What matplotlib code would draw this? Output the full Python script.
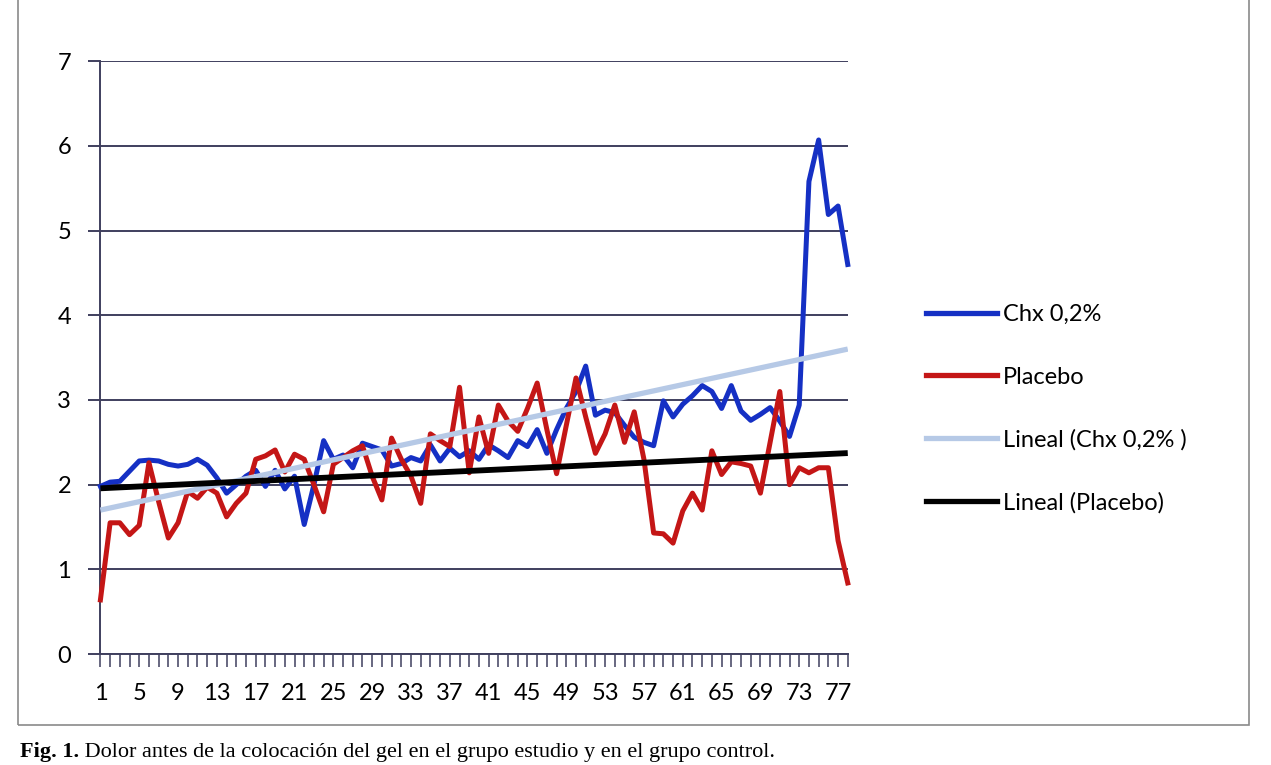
import numpy as np
import matplotlib
matplotlib.use("Agg")
import matplotlib.pyplot as plt
from matplotlib.lines import Line2D
from matplotlib.patches import Rectangle

# categories (patients) and pain scores
days = list(range(1, 79))
tick_labels = [str(d) if (d - 1) % 4 == 0 else "" for d in days]

chx = [1.98, 2.03, 2.04, 2.16, 2.28, 2.29, 2.28, 2.24, 2.22, 2.24,
       2.30, 2.23, 2.08, 1.90, 2.00, 2.10, 2.17, 1.98, 2.17, 1.95,
       2.10, 1.53, 2.00, 2.52, 2.30, 2.35, 2.20, 2.49, 2.45, 2.41,
       2.22, 2.25, 2.32, 2.28, 2.47, 2.28, 2.43, 2.33, 2.40, 2.30,
       2.47, 2.40, 2.32, 2.52, 2.45, 2.65, 2.37, 2.65, 2.90, 3.10,
       3.40, 2.82, 2.88, 2.85, 2.70, 2.56, 2.50, 2.46, 2.99, 2.80,
       2.95, 3.05, 3.17, 3.10, 2.90, 3.17, 2.87, 2.76, 2.83, 2.91,
       2.75, 2.57, 2.94, 5.58, 6.07, 5.19, 5.29, 4.60]

placebo = [0.64, 1.55, 1.55, 1.41, 1.52, 2.26, 1.80, 1.37, 1.55, 1.92,
           1.84, 1.97, 1.90, 1.62, 1.78, 1.90, 2.30, 2.34, 2.41, 2.15,
           2.36, 2.30, 2.00, 1.68, 2.24, 2.32, 2.40, 2.46, 2.10, 1.82,
           2.55, 2.30, 2.10, 1.78, 2.60, 2.52, 2.45, 3.15, 2.14, 2.80,
           2.37, 2.94, 2.75, 2.63, 2.90, 3.20, 2.65, 2.13, 2.70, 3.26,
           2.80, 2.37, 2.60, 2.94, 2.50, 2.86, 2.30, 1.43, 1.42, 1.31,
           1.69, 1.90, 1.70, 2.40, 2.12, 2.27, 2.25, 2.22, 1.90, 2.50,
           3.10, 2.00, 2.20, 2.14, 2.20, 2.20, 1.34, 0.84]

series_names = ["Chx 0,2%", "Placebo", "Lineal (Chx 0,2% )", "Lineal (Placebo)"]
caption_bold = "Fig. 1."
caption_rest = " Dolor antes de la colocación del gel en el grupo estudio y en el grupo control."

c_blue = "#1530c4"
c_red = "#c41616"
c_lblue = "#b6c9e6"
c_black = "#000000"
grid_col = "#3f3f5e"

plt.rcParams['font.family'] = ['Lato', 'DejaVu Sans']

fig = plt.figure(figsize=(12.71, 7.65), dpi=100)
fig.patch.set_facecolor("white")

# outer chart border
fig.add_artist(Rectangle((0.014, 0.052), 0.969, 1.0, transform=fig.transFigure,
                         fill=False, edgecolor="#8a8a8a", linewidth=1.2))

ax = fig.add_axes([0.079, 0.145, 0.588, 0.775])

x = np.array(days)
ax.plot(x, chx, color=c_blue, lw=3.6, solid_joinstyle="round", clip_on=False, zorder=3)
ax.plot(x, placebo, color=c_red, lw=3.6, solid_joinstyle="round", clip_on=False, zorder=3)

# linear trend lines, as Excel fits them
k1, b1 = np.polyfit(x, chx, 1)
k2, b2 = np.polyfit(x, placebo, 1)
ends = np.array([x[0], x[-1]])
ax.plot(ends, k1 * ends + b1, color=c_lblue, lw=3.8, zorder=4, solid_capstyle="butt")
ax.plot(ends, k2 * ends + b2, color=c_black, lw=4.2, zorder=5, solid_capstyle="butt")

ax.set_xlim(1, 78)
ax.set_ylim(0, 7)
ax.set_yticks(range(0, 8))
ax.set_xticks(days)
ax.set_xticklabels(tick_labels)
ax.yaxis.grid(True, color=grid_col, lw=1.4)
ax.set_axisbelow(True)
for s in ["top", "right"]:
    ax.spines[s].set_visible(False)
for s in ["left", "bottom"]:
    ax.spines[s].set_color(grid_col)
    ax.spines[s].set_linewidth(1.4)
ax.tick_params(axis="y", length=9, width=1.4, color=grid_col, labelsize=17, pad=12)
ax.tick_params(axis="x", length=9, width=1.1, color=grid_col, labelsize=17, pad=12)

handles = [Line2D([], [], color=c, lw=3.8) for c in (c_blue, c_red, c_lblue, c_black)]
fig.legend(handles, series_names, loc="upper left", bbox_to_anchor=(0.712, 0.63),
           frameon=False, fontsize=17, handlelength=3.0, handletextpad=0.25,
           labelspacing=1.75)

t1 = fig.text(0.016, 0.01, caption_bold, fontsize=16, fontweight="bold",
              family=["Liberation Serif", "DejaVu Serif"])
fig.canvas.draw()
bb = t1.get_window_extent()
fig.text(bb.x1 / fig.bbox.width, 0.01, caption_rest, fontsize=16,
         family=["Liberation Serif", "DejaVu Serif"])

fig.savefig("out.png", dpi=100, facecolor="white")
